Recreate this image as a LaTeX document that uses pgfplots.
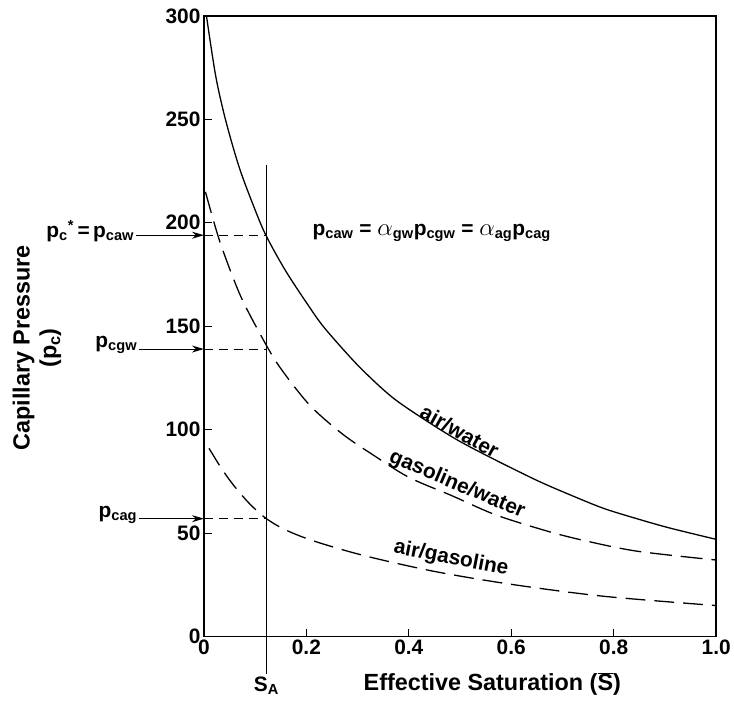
\documentclass[border=0pt]{standalone}
\usepackage{pgfplots}
\pgfplotsset{compat=1.18}
\usepackage{fontspec}
\setmainfont{Liberation Sans}
\usetikzlibrary{arrows.meta}

\newcommand\fs{\fontsize{21}{24}\selectfont\bfseries}
\newcommand\lfs{\fontsize{23.5}{27}\selectfont\bfseries}
\newcommand\al{{\fontsize{28}{28}\selectfont\(\alpha\)}}

\begin{document}
\begin{tikzpicture}
\begin{axis}[
  width=515pt, height=624pt, scale only axis,
  xmin=0, xmax=1, ymin=0, ymax=300,
  xtick={0,0.2,0.4,0.6,0.8,1}, xticklabels={0,0.2,0.4,0.6,0.8,1.0},
  ytick={0,50,100,150,200,250,300},
  xtick pos=bottom, ytick pos=left,
  tick align=inside, major tick length=8pt,
  axis line style={line width=1.4pt},
  tick style={line width=1.2pt, black},
  /pgf/number format/assume math mode=true,
  tick label style={font=\fs},
  label style={font=\lfs},
  xlabel={Effective Saturation (\(\overline{\mbox{S}}\))},
  xlabel style={at={(axis description cs:0.563,-0.076)}, anchor=center},
  ylabel={Capillary Pressure\\(p\textsubscript{c})},
  ylabel style={at={(axis description cs:-0.326,0.465)}, anchor=center, align=center},
  clip=false,
]
% invisible frame that sets the page size
\path (rel axis cs:0,0) ++(-205pt,-64pt) rectangle ++(734pt,704pt);

% air/water
\addplot[black, line width=1.3pt, smooth] coordinates {
  (0.005,300) (0.023,271) (0.042,250) (0.068,227.5) (0.094,210) (0.120,194.5)
  (0.159,177) (0.204,160) (0.236,149) (0.301,131) (0.366,116) (0.430,105)
  (0.495,95) (0.560,86.5) (0.650,75.5) (0.715,68.5) (0.780,62) (0.845,57)
  (0.909,52.5) (1.0,47)
};
% gasoline/water
\addplot[black, line width=1.3pt, smooth, dash pattern=on 22pt off 9pt] coordinates {
  (0.003,215) (0.031,191) (0.07,165.5) (0.109,146.6) (0.146,131) (0.206,112)
  (0.27,98) (0.329,88) (0.4,77) (0.485,68) (0.57,58.8) (0.67,51) (0.741,46.5)
  (0.845,41.3) (1.0,37)
};
% air/gasoline
\addplot[black, line width=1.3pt, smooth, dash pattern=on 20pt off 9pt] coordinates {
  (0.01,91) (0.035,81) (0.06,72.5) (0.09,64) (0.122,57) (0.16,51.5) (0.217,46)
  (0.315,39) (0.45,31.5) (0.599,25.3) (0.78,19.5) (1.0,15)
};

% S_A line and guides
\draw[line width=1pt] (axis cs:0.122,-18) -- (axis cs:0.122,228);
\node[anchor=north, font=\fs, inner sep=1pt] at (axis cs:0.122,-19) {S\textsubscript{A}};
\draw[line width=1pt, dash pattern=on 9pt off 6pt] (axis cs:0,194) -- (axis cs:0.122,194);
\draw[line width=1pt, dash pattern=on 9pt off 6pt] (axis cs:0,139) -- (axis cs:0.122,139);
\draw[line width=1pt, dash pattern=on 9pt off 6pt] (axis cs:0,57) -- (axis cs:0.122,57);

% arrows from the left
\draw[line width=1pt, -{Stealth[length=12pt,width=7pt]}] (axis cs:-0.132,194) -- (axis cs:0,194);
\draw[line width=1pt, -{Stealth[length=12pt,width=7pt]}] (axis cs:-0.126,139) -- (axis cs:0,139);
\draw[line width=1pt, -{Stealth[length=12pt,width=7pt]}] (axis cs:-0.126,57) -- (axis cs:0,57);
\node[anchor=east, font=\fs, inner sep=2pt] at (axis cs:-0.132,196) {p\textsubscript{c}\textsuperscript{*}\,=\,p\textsubscript{caw}};
\node[anchor=east, font=\fs, inner sep=2pt] at (axis cs:-0.126,141) {p\textsubscript{cgw}};
\node[anchor=east, font=\fs, inner sep=2pt] at (axis cs:-0.126,59) {p\textsubscript{cag}};

% relation
\node[anchor=west, font=\fs, inner sep=0pt] at (axis cs:0.212,195)
  {p\textsubscript{caw}\;=\;\al\textsubscript{gw}p\textsubscript{cgw}\;=\;\al\textsubscript{ag}p\textsubscript{cag}};

% curve labels
\node[rotate=-29, anchor=south, font=\fs, inner sep=2pt] at (axis cs:0.49,95) {air/water};
\node[rotate=-23, anchor=south, font=\fs, inner sep=2pt] at (axis cs:0.485,68) {gasoline/water};
\node[rotate=-11, anchor=south, font=\fs, inner sep=2pt] at (axis cs:0.478,32) {air/gasoline};
\end{axis}
\end{tikzpicture}
\end{document}
